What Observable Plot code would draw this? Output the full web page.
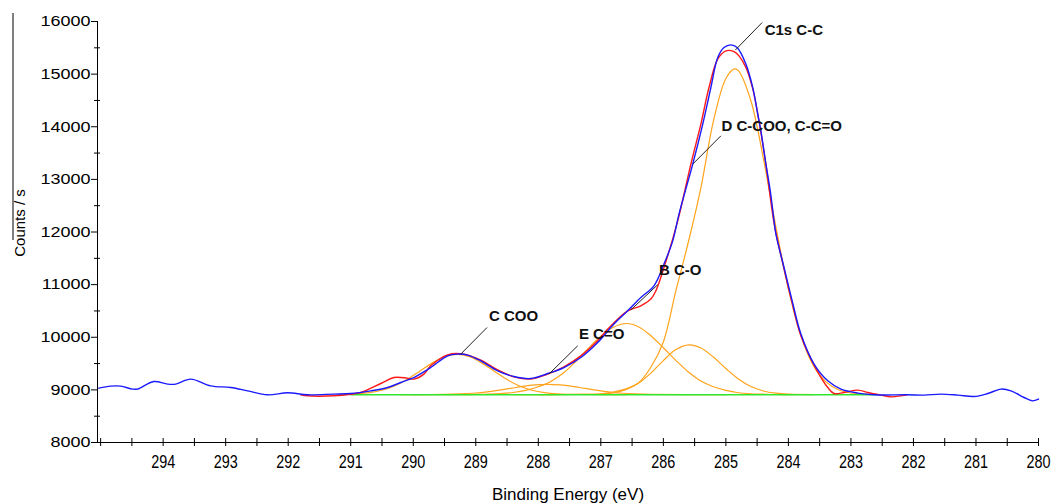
<!DOCTYPE html>
<html><head><meta charset="utf-8">
<script src="https://cdn.jsdelivr.net/npm/d3@7"></script>
<script src="https://cdn.jsdelivr.net/npm/@observablehq/plot@0.6"></script>
<style>
body{margin:0;background:#fff;}
#chart svg{display:block;}
</style></head><body><div id="chart"></div>
<script>
// Axis ticks
const xTicks = [294,293,292,291,290,289,288,287,286,285,284,283,282,281,280];
const yTicks = [8000,9000,10000,11000,12000,13000,14000,15000,16000];
const xMinorTicks = d3.range(295, 279.9, -0.5);
const yMinorTicks = d3.range(8500, 16000, 1000);

// Envelope (blue)
const blueE = [295.03,294.84,294.68,294.49,294.41,294.15,293.93,293.80,293.56,293.24,292.92,292.65,292.33,292.01,291.69,291.27,291.00,290.68,290.41,290.20,289.99,289.72,289.45,289.29,289.13,288.92,288.65,288.39,288.12,287.85,287.59,287.32,287.05,286.79,286.57,286.36,286.15,285.99,285.85,285.75,285.53,285.37,285.24,285.13,285.03,284.92,284.82,284.68,284.57,284.49,284.44,284.36,284.29,284.23,284.20,284.07,283.94,283.80,283.59,283.37,283.16,282.89,282.63,282.10,281.83,281.56,281.29,281.03,280.81,280.60,280.44,280.23,280.10,280.00];
const blueC = [9034,9072,9072,9015,9015,9159,9110,9110,9205,9077,9045,8982,8906,8944,8906,8920,8931,8982,9045,9140,9235,9425,9647,9680,9661,9552,9362,9254,9216,9311,9425,9615,9900,10250,10502,10755,10977,11390,11832,12340,13290,14050,14745,15315,15505,15556,15505,15190,14745,14240,13922,13290,12782,12212,11960,11325,10692,10060,9490,9172,9015,8939,8906,8906,8901,8920,8901,8874,8931,9015,8982,8855,8792,8825];

// Measured data (red)
const redE = [291.80,291.69,291.27,291.00,290.84,290.52,290.31,290.10,289.99,289.83,289.72,289.45,289.19,288.92,288.65,288.39,288.12,287.85,287.59,287.32,287.05,286.89,286.57,286.36,286.20,286.12,285.99,285.77,285.56,285.40,285.27,285.13,285.00,284.87,284.79,284.68,284.57,284.49,284.36,284.23,284.07,283.94,283.80,283.54,283.37,283.27,283.11,282.89,282.73,282.52,282.36,282.20,282.10];
const redC = [8906,8887,8887,8916,8950,9121,9235,9224,9205,9300,9457,9666,9680,9566,9381,9248,9205,9300,9438,9647,9932,10155,10502,10597,10725,10882,11325,12212,13290,14050,14745,15285,15442,15429,15347,15125,14720,14240,13290,12174,11300,10654,10027,9362,9045,8931,8950,8996,8950,8901,8868,8887,8906];

// Fitted components (orange)
const compAE = [288.0,287.4,287.0,286.8,286.6,286.4,286.2,286.0,285.8,285.6,285.4,285.2,285.0,284.86,284.8,284.6,284.4,284.2,284.0,283.8,283.6,283.4,283.2,283.0,282.8,282.6];
const compAC = [8910,8912,8925,8960,9020,9130,9430,9910,10880,11810,12840,14101,14918,15100,15066,14495,13396,12099,10918,10029,9461,9151,9003,8940,8920,8913];
const compBE = [290.2,289.2,289.0,288.8,288.6,288.4,288.2,288.0,287.8,287.6,287.4,287.2,287.0,286.8,286.59,286.4,286.2,286.0,285.8,285.6,285.4,285.2,285.0,284.8,284.6,284.4,284.2,283.9];
const compBC = [8910,8911,8912,8918,8930,8950,8990,9060,9160,9320,9540,9790,10020,10190,10261,10200,10030,9800,9560,9340,9170,9060,8990,8945,8925,8918,8912,8910];
const compCE = [291.2,290.9,290.7,290.5,290.3,290.1,289.9,289.7,289.5,289.3,289.1,288.9,288.7,288.5,288.3,288.1,287.9,287.7,287.3,286.6];
const compCC = [8911,8925,8947,8993,9074,9196,9350,9508,9629,9675,9629,9508,9350,9196,9074,8993,8947,8925,8912,8910];
const compDE = [288.4,287.6,287.0,286.8,286.6,286.4,286.2,286.0,285.8,285.59,285.4,285.2,285.0,284.8,284.6,284.4,284.2,284.0,283.6];
const compDC = [8910,8912,8920,8944,9004,9124,9318,9557,9766,9856,9795,9624,9407,9208,9064,8979,8937,8918,8911];
const compEE = [290.0,289.5,289.25,289.05,288.85,288.65,288.45,288.25,288.05,287.85,287.65,287.45,287.25,287.05,286.85,286.65,286.45,286.2,285.0];
const compEC = [8911,8915,8923,8936,8959,8990,9028,9066,9094,9105,9094,9066,9028,8990,8959,8936,8923,8915,8911];

// Background (green)
const baseE = [291.0, 282.6];
const baseC = [8906, 8906];

// Annotations
const labelText = ["C1s C-C","D C-COO, C-C=O","B C-O","C COO","E C=O"];
const labelE = [284.38,285.07,286.07,288.79,287.35];
const labelC = [15841,14017,11281,10407,10065];
const leaderE1 = [284.42,285.08,286.09,288.82,287.37];
const leaderC1 = [15980,13827,10998,10185,9837];
const leaderE2 = [284.85,285.53,286.52,289.24,287.83];
const leaderC2 = [15456,13290,10520,9680,9300];

const rows = (xs, ys, k) => xs.map((x, i) => ({x, y: ys[i], k}));
const comps = [
  ...rows(compAE, compAC, "A"), ...rows(compBE, compBC, "B"), ...rows(compCE, compCC, "C"),
  ...rows(compDE, compDC, "D"), ...rows(compEE, compEC, "E")
];
const labels = labelText.map((t, i) => ({t, x: labelE[i], y: labelC[i]}));
const leaders = labelText.map((t, i) => ({x1: leaderE1[i], y1: leaderC1[i], x2: leaderE2[i], y2: leaderC2[i]}));

const font = "'Liberation Sans', Arial, sans-serif";
const chart = Plot.plot({
  width: 1057, height: 504,
  marginLeft: 97, marginRight: 19, marginTop: 21, marginBottom: 62,
  x: {domain: [295.05, 280]},
  y: {domain: [8000, 16000]},
  style: {fontFamily: font, background: "#fff", color: "#000"},
  marks: [
    Plot.axisY(yMinorTicks, {tickSize: 6, dx: 3, text: null, label: null}),
    Plot.axisY(yTicks, {tickSize: 6, tickPadding: 1, fontSize: 15, label: null, tickFormat: d => String(d)}),
    Plot.axisX(xMinorTicks, {tickSize: 8, dy: -4, text: null, label: null}),
    Plot.axisX(xTicks, {tickSize: 0, tickPadding: 13, fontSize: 18, label: null, tickFormat: d => String(d)}),
    Plot.frame({anchor: "left"}),
    Plot.frame({anchor: "bottom"}),
    Plot.line(comps, {x: "x", y: "y", z: "k", stroke: "#ffa31a", strokeWidth: 1.2, curve: "catmull-rom"}),
    Plot.line(rows(baseE, baseC, "bg"), {x: "x", y: "y", stroke: "#2ee82e", strokeWidth: 1.6}),
    Plot.line(rows(redE, redC, "data"), {x: "x", y: "y", stroke: "#ff1a1a", strokeWidth: 1.4, curve: "catmull-rom"}),
    Plot.line(rows(blueE, blueC, "fit"), {x: "x", y: "y", stroke: "#1a1aff", strokeWidth: 1.4, curve: "catmull-rom"}),
    Plot.link(leaders, {x1: "x1", y1: "y1", x2: "x2", y2: "y2", stroke: "#222", strokeWidth: 1}),
    Plot.text(labels, {x: "x", y: "y", text: "t", textAnchor: "start", fontWeight: "bold", fontSize: 15, fill: "#111"}),
    Plot.text(["Binding Energy (eV)"], {frameAnchor: "bottom", lineAnchor: "middle", dy: 52, fontSize: 17}),
    Plot.text(["Counts / s"], {frameAnchor: "left", textAnchor: "middle", lineAnchor: "middle", rotate: -90, dx: -77, dy: -9, fontSize: 15})
  ]
});
document.getElementById("chart").appendChild(chart);

// Horizontal stretching of tick labels as in the reference
const svg = d3.select(chart);
svg.selectAll('g[aria-label="y-axis tick label"] text').each(function() {
  const t = this.getAttribute("transform") || "";
  this.setAttribute("transform", t + " scale(1.2,1)");
});
svg.selectAll('g[aria-label="x-axis tick label"] text').each(function() {
  const t = this.getAttribute("transform") || "";
  this.setAttribute("transform", t + " scale(0.8,1)");
});
// thin rule above the y-axis title
svg.append("line").attr("x1", 13).attr("x2", 13).attr("y1", 13).attr("y2", 240)
  .attr("stroke", "#000").attr("stroke-width", 1);
</script>
</body></html>
